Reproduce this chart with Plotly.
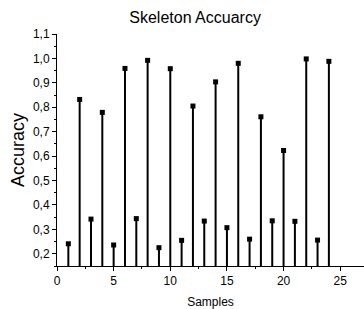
import plotly.graph_objects as go

samples = list(range(1, 25))
accuracy = [0.241, 0.832, 0.342, 0.779, 0.236, 0.959, 0.344, 0.992, 0.225, 0.958,
            0.255, 0.805, 0.334, 0.904, 0.307, 0.980, 0.260, 0.761, 0.335, 0.623,
            0.333, 0.998, 0.256, 0.988]
baseline = 0.15

fig = go.Figure()
fig.add_trace(go.Scatter(
    x=samples, y=accuracy, mode="markers",
    marker=dict(symbol="square", size=5, color="black"),
    error_y=dict(type="data", symmetric=False,
                 array=[0] * len(accuracy),
                 arrayminus=[v - baseline for v in accuracy],
                 thickness=2, width=0, color="black"),
    showlegend=False, cliponaxis=False,
))

fig.update_layout(
    width=364, height=309,
    margin=dict(l=57, r=0, t=34, b=43),
    paper_bgcolor="white", plot_bgcolor="white",
    separators=",.",
    font=dict(family="Liberation Sans, Arial, sans-serif", color="black", size=12),
    title=dict(text="Skeleton Accuarcy", x=0.536, xanchor="center", y=0.962, yanchor="top",
               font=dict(size=16, color="black")),
    xaxis=dict(range=[0, 27.1], tickmode="linear", tick0=0, dtick=5,
               showgrid=False, zeroline=False, showline=True, linecolor="black", linewidth=1,
               ticks="outside", ticklen=4, tickcolor="black",
               minor=dict(ticks="outside", ticklen=2, dtick=2.5, tick0=0, tickcolor="black"),
               title=dict(text="Samples", font=dict(size=12), standoff=10)),
    yaxis=dict(range=[baseline, 1.1], tickmode="linear", tick0=0.2, dtick=0.1, tickformat=".1f",
               showgrid=False, zeroline=False, showline=True, linecolor="black", linewidth=1,
               ticks="outside", ticklen=4, tickcolor="black",
               minor=dict(ticks="outside", ticklen=2, dtick=0.05, tick0=0.15, tickcolor="black"),
               title=dict(text="Accuracy", font=dict(size=18), standoff=3)),
)

fig.write_html("out.html", config={"displayModeBar": False},
               post_script="document.body.style.margin='0';document.body.style.overflow='hidden';")
